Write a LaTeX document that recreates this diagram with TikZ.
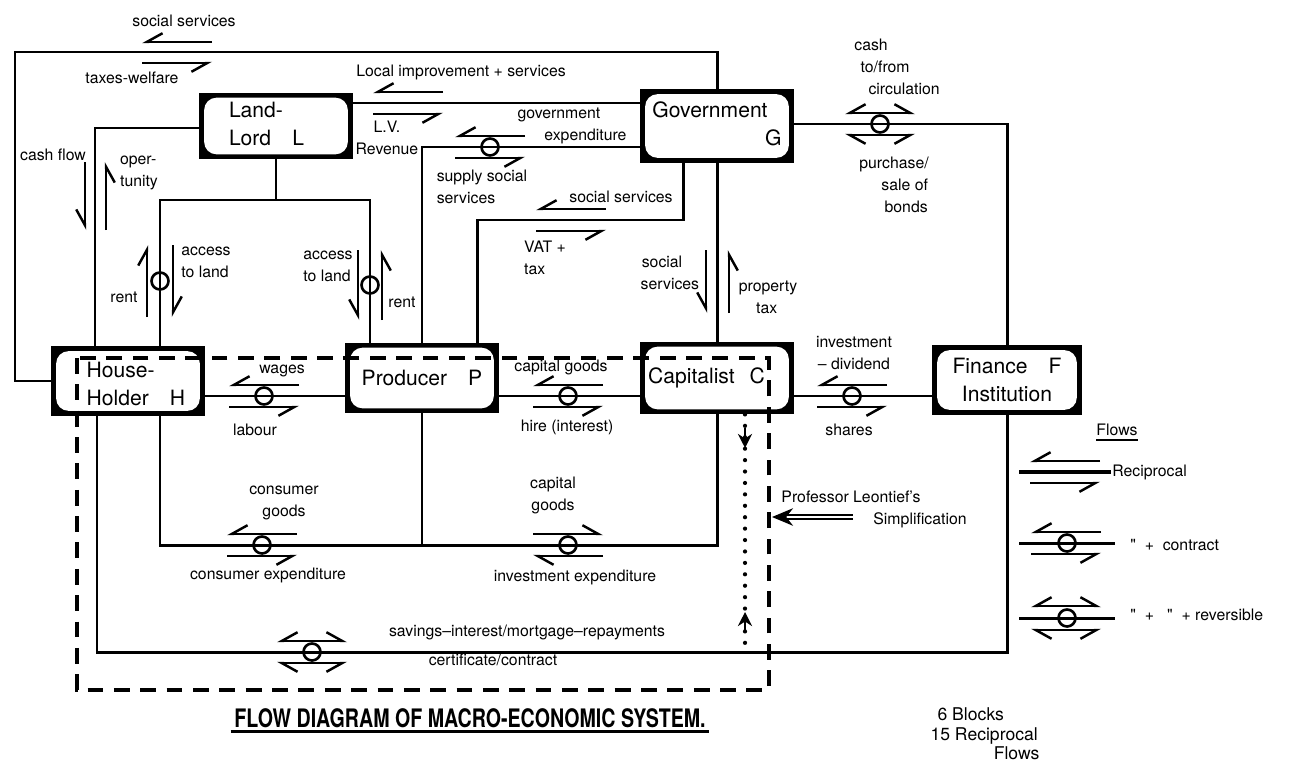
\documentclass[tikz,border=0pt]{standalone}
\usepackage{fontspec}
\setmainfont{TeX Gyre Heros}
\usetikzlibrary{arrows.meta}

\tikzset{
  block/.style={draw, line width=2.2pt, fill=black, minimum width=3cm, minimum height=1.32cm,
    inner sep=0pt, font=\fontsize{12}{16}\selectfont,
    path picture={\fill[white, rounded corners=7pt]
      ([shift={(1.8pt,-1.8pt)}]path picture bounding box.north west) rectangle
      ([shift={(-1.8pt,1.8pt)}]path picture bounding box.south east);}},
  link/.style={line width=1.7pt},
  lbl/.style={font=\fontsize{9}{12.5}\selectfont, inner sep=0pt, align=center},
  ha/.style={line width=1.4pt, -{Straight Barb[left, length=9pt, width=10pt]}},
  hb/.style={line width=1.4pt, -{Straight Barb[right, length=9pt, width=10pt]}},
  rv/.style={line width=1.4pt, {Straight Barb[right, length=9pt, width=10pt]}-{Straight Barb[left, length=9pt, width=10pt]}},
  rw/.style={line width=1.4pt, {Straight Barb[left, length=9pt, width=10pt]}-{Straight Barb[right, length=9pt, width=10pt]}},
  deal/.style={circle, draw, line width=1.5pt, minimum size=0.34cm, inner sep=0pt},
  leonbox/.style={line width=1.8pt, dash pattern=on 9pt off 6pt},
  leondots/.style={line width=2.4pt, line cap=round, dash pattern=on 0pt off 6.5pt},
}

\begin{document}
\begin{tikzpicture}[x=0.02cm, y=-0.02cm]
\useasboundingbox (0,0) rectangle (1294,764);

% the six blocks
\node[block, minimum height=1.26cm] (L) at (276,126)
  {\begin{tabular}{@{}l@{\hspace{0.9em}}}Land-\\Lord\quad L\end{tabular}};
\node[block, minimum height=1.4cm] (G) at (717,126)
  {\begin{tabular}{@{}l@{}}Government\\\hspace*{5.35em}G\end{tabular}};
\node[block] (H) at (128,381)
  {\raisebox{-3pt}[\height][\depth]{\begin{tabular}{@{\hspace{0.75em}}l@{}}House-\\Holder\quad H\end{tabular}}};
\node[block, minimum height=1.34cm] (P) at (422,378) {Producer\quad P};
\node[block, minimum height=1.38cm] (C) at (717,378) {Capitalist\hspace{0.7em}C\hspace*{1em}};
\node[block, minimum width=2.92cm, align=center] (F) at (1007,380) {Finance\quad F\\Institution};

% connections
\draw[link] (G.north) |- (15,52) |- (H.west);
\draw[link] (L.east |- 0,103) -- (G.west |- 0,103);
\draw[link] (G.west |- 0,147) -| (P.north);
\draw[link] (683,0 |- G.south) |- (477,220) -- (477,0 |- P.north);
\draw[link] (G.south) -- (C.north);
\draw[link] (G.east |- 0,124) -| (F.north);
\draw[link] (L.south) -- (276,200);
\draw[link] (160,0 |- H.north) |- (370,200) -- (370,0 |- P.north);
\draw[link] (95,0 |- H.north) |- (L.west |- 0,128);
\draw[link] (H.east |- 0,396) -- (P.west |- 0,396);
\draw[link] (P.east |- 0,396) -- (C.west |- 0,396);
\draw[link] (C.east |- 0,396) -- (F.west |- 0,396);
\draw[link] (160,0 |- H.south) |- (717,545) -- (C.south);
\draw[link] (P.south) -- (P.south |- 0,545);
\draw[link] (97,0 |- H.south) |- (1007,652) -- (F.south);

% reciprocal flows
\draw[hb] (212,42) -- (142,42);
\draw[hb] (142,63) -- (212,63);
\draw[hb] (443,92) -- (373,92);
\draw[hb] (373,114) -- (443,114);
\node[deal] (k1) at (490,147) {};
\draw[hb] (525,136) -- (455,136);
\draw[hb] (455,158) -- (525,158);
\draw[hb] (606,209) -- (536,209);
\draw[hb] (536,231) -- (606,231);
\node[deal] (k2) at (880,124) {};
\draw[rv] (845,113) -- (915,113);
\draw[rw] (845,135) -- (915,135);
\node[deal] (k3) at (264,396) {};
\draw[hb] (299,385) -- (229,385);
\draw[hb] (229,407) -- (299,407);
\node[deal] (k4) at (568,396) {};
\draw[hb] (603,385) -- (533,385);
\draw[hb] (533,407) -- (603,407);
\node[deal] (k5) at (852,396) {};
\draw[hb] (887,385) -- (817,385);
\draw[hb] (817,407) -- (887,407);
\node[deal] (k6) at (262,545) {};
\draw[hb] (297,534) -- (227,534);
\draw[hb] (227,556) -- (297,556);
\node[deal] (k7) at (568,545) {};
\draw[ha] (533,534) -- (603,534);
\draw[ha] (603,556) -- (533,556);
\node[deal] (k8) at (312,652) {};
\draw[rv] (277,641) -- (347,641);
\draw[rw] (277,663) -- (347,663);
\node[deal] (k9) at (160,281) {};
\draw[ha] (147,317) -- (147,245);
\draw[ha] (173,245) -- (173,317);
\node[deal] (k10) at (370,285) {};
\draw[hb] (358,250) -- (358,320);
\draw[hb] (382,320) -- (382,250);
\draw[hb] (85,162) -- (85,230);
\draw[hb] (106,230) -- (106,162);
\draw[hb] (706,250) -- (706,313);
\draw[hb] (729,313) -- (729,250);

% flow labels
\node[lbl] (ss1) at (184,21) {social services};
\node[lbl] (tw) at (132,78) {taxes-welfare};
\node[lbl] (lis) at (461,72) {Local improvement + services};
\node[lbl] (lv) at (387,138) {L.V.\\Revenue};
\node[lbl, align=left] (ge) at (572,126) {government\\\hspace{1.7em}expenditure};
\node[lbl, align=left] (sss) at (482,187) {supply social\\services};
\node[lbl] (ss2) at (621,197) {social services};
\node[lbl, align=left] (vat) at (545,258) {VAT +\\tax};
\node[lbl] (ss3) at (662,273) {social\\\hspace{1em}services};
\node[lbl, align=left] (pt) at (768,297) {property\\\hspace{1.1em}tax};
\node[lbl, align=left] (cash) at (897,67) {cash\\\hspace{0.4em}to/from\\\hspace{0.9em}circulation};
\node[lbl, align=left] (bonds) at (894,185) {purchase/\\\hspace{1.4em}sale of\\\hspace{1.6em}bonds};
\node[lbl] (cf) at (53,155) {cash flow};
\node[lbl, align=left] (opp) at (139,173) {oper-\\tunity};
\node[lbl, align=left] (al1) at (206,262) {access\\to land};
\node[lbl] (rent1) at (124,297) {rent};
\node[lbl, align=left] (al2) at (328,266) {access\\to land};
\node[lbl] (rent2) at (402,302) {rent};
\node[lbl] (wg) at (282,371) {wages};
\node[lbl] (lab) at (255,430) {labour};
\node[lbl] (cg1) at (561,367) {capital goods};
\node[lbl] (hire) at (567,427) {hire (interest)};
\node[lbl] (invd) at (854,353) {investment\\-- dividend};
\node[lbl] (shr) at (849,430) {shares};
\node[lbl] (cgd) at (284,503) {consumer\\goods};
\node[lbl] (cex) at (268,575) {consumer expenditure};
\node[lbl] (cg2) at (553,495) {capital\\goods};
\node[lbl] (iex) at (575,577) {investment expenditure};
\node[lbl] (sav) at (527,632) {savings--interest/mortgage--repayments};
\node[lbl] (cert) at (493,660) {certificate/contract};

% Leontief's short cut
\draw[leonbox] (77,358) rectangle (769,690);
\coordinate (sv) at (745,652);
\draw[leondots] (745,0 |- C.south) -- (sv);
\draw[line width=1.5pt, -{Stealth[length=8pt, width=8pt]}] (745,428) -- (745,448);
\draw[line width=1.5pt, -{Stealth[length=8pt, width=8pt]}] (745,632) -- (745,612);
\node[lbl] (prof) at (851,497) {Professor Leontief's};
\node[lbl] (simp) at (920,520) {Simplification};
\coordinate (tip) at (772,517);
\draw[line width=0.8pt, double, double distance=1.6pt, -{Stealth[length=12pt, width=10pt]}] (853,517) -- (tip);

% key
\node[lbl] (flw) at (1117,430) {Flows};
\draw[line width=0.9pt] ([yshift=-2pt]flw.south west) -- ([yshift=-2pt]flw.south east);
\draw[line width=2.6pt] (1019,472) -- (1111,472);
\draw[hb] (1100,461) -- (1030,461);
\draw[hb] (1030,483) -- (1100,483);
\node[lbl, anchor=west] (rec) at (1112,472) {Reciprocal};
\draw[link] (1019,543) -- (1115,543);
\node[deal] (k11) at (1067,543) {};
\draw[hb] (1101,532) -- (1031,532);
\draw[hb] (1031,554) -- (1101,554);
\node[lbl, anchor=west] (con) at (1130,545) {\textquotedbl\ \ +\ \ contract};
\draw[link] (1019,618) -- (1115,618);
\node[deal] (k12) at (1067,618) {};
\draw[rv] (1031,606) -- (1101,606);
\draw[rw] (1031,630) -- (1101,630);
\node[lbl, anchor=west] (rev) at (1130,615) {\textquotedbl\ \ +\ \ \ \textquotedbl\ \ + reversible};

% title
\node[inner sep=2pt] (title) at (470,718) {\scalebox{0.77}[1]{\bfseries\fontsize{14.5}{16}\selectfont FLOW DIAGRAM OF MACRO-ECONOMIC SYSTEM.}};
\draw[line width=1.4pt] (title.south west) -- (title.south east);
\node[font=\fontsize{10}{11}\selectfont, align=left, inner sep=0pt] (blk) at (985,734) {\hspace{0.4em}6 Blocks\\15 Reciprocal\\\hspace{3.6em}Flows};

\end{tikzpicture}
\end{document}
